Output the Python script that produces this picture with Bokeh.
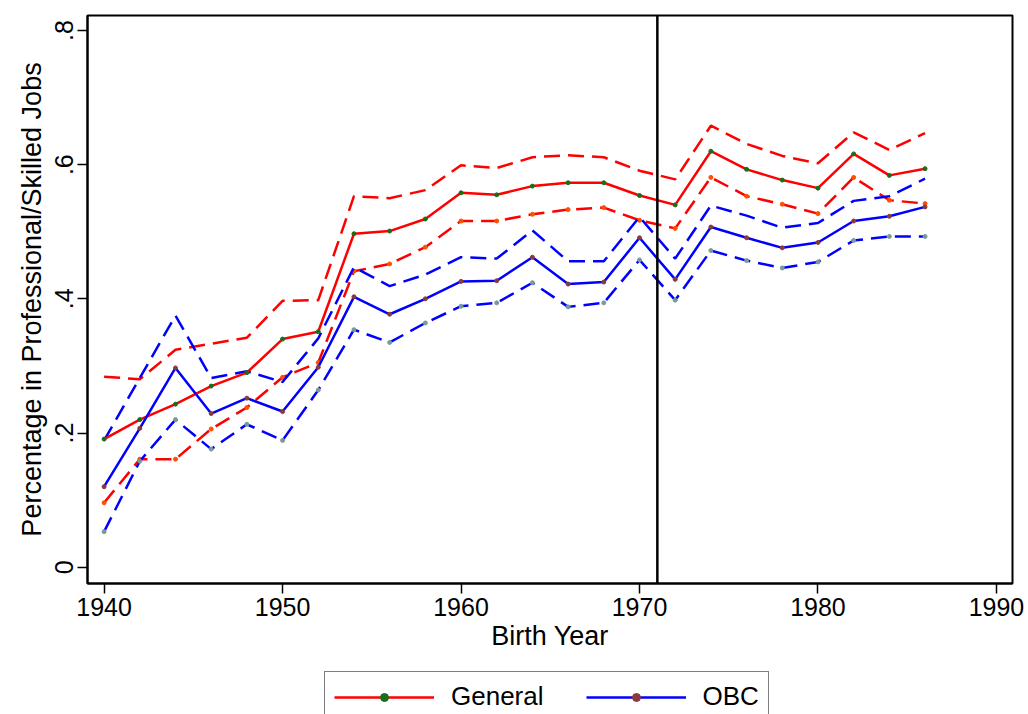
from bokeh.plotting import figure
from bokeh.layouts import column
from bokeh.models import (Span, Legend, LegendItem, FixedTicker,
                          CustomJSTickFormatter, Range1d)
from bokeh.embed import file_html
from bokeh.resources import INLINE

# Birth cohorts (two-year bins)
years = [1940, 1942, 1944, 1946, 1948, 1950, 1952, 1954, 1956, 1958, 1960, 1962,
         1964, 1966, 1968, 1970, 1972, 1974, 1976, 1978, 1980, 1982, 1984, 1986]

# General caste: share in professional/skilled jobs with 95% bounds
gen_mean = [0.191, 0.220, 0.243, 0.270, 0.290, 0.340, 0.351, 0.497, 0.501, 0.519, 0.558, 0.555,
            0.568, 0.573, 0.573, 0.554, 0.540, 0.620, 0.593, 0.577, 0.565, 0.616, 0.584, 0.594]
gen_hi = [0.284, 0.280, 0.324, 0.333, 0.342, 0.397, 0.398, 0.553, 0.550, 0.562, 0.599, 0.595,
          0.611, 0.614, 0.611, 0.591, 0.578, 0.658, 0.631, 0.613, 0.602, 0.648, 0.622, 0.647]
gen_lo = [0.096, 0.161, 0.161, 0.206, 0.238, 0.283, 0.305, 0.441, 0.452, 0.477, 0.516, 0.516,
          0.526, 0.533, 0.536, 0.517, 0.505, 0.581, 0.553, 0.541, 0.527, 0.581, 0.547, 0.542]

# OBC: share in professional/skilled jobs with 95% bounds
obc_mean = [0.120, 0.207, 0.297, 0.229, 0.252, 0.232, 0.298, 0.403, 0.377, 0.400, 0.426, 0.427,
            0.462, 0.422, 0.425, 0.491, 0.429, 0.507, 0.491, 0.476, 0.484, 0.516, 0.523, 0.537]
obc_hi = [0.189, 0.282, 0.375, 0.282, 0.292, 0.276, 0.341, 0.447, 0.419, 0.436, 0.462, 0.460,
          0.502, 0.456, 0.456, 0.522, 0.460, 0.539, 0.524, 0.506, 0.513, 0.546, 0.553, 0.579]
obc_lo = [0.053, 0.158, 0.220, 0.176, 0.213, 0.189, 0.264, 0.354, 0.335, 0.364, 0.389, 0.394,
          0.424, 0.388, 0.394, 0.458, 0.398, 0.472, 0.457, 0.446, 0.455, 0.487, 0.493, 0.493]

policy_year = 1971
x_ticks = [1940, 1950, 1960, 1970, 1980, 1990]
y_ticks = [0, 0.2, 0.4, 0.6, 0.8]

FONT = "Liberation Sans"
RED = "#ff0000"
BLUE = "#0000ff"
GEN_DOT = "#1a6e1a"
OBC_DOT = "#8b3a3a"
DASH = "16 8"
LW = 2.5

p = figure(width=1028, height=660, output_backend="svg", toolbar_location=None,
           x_range=Range1d(1939.07, 1990.9), y_range=Range1d(-0.0243, 0.8223),
           min_border_left=87, min_border_right=16, min_border_top=15,
           min_border_bottom=77, background_fill_color="white",
           border_fill_color="white")

p.xgrid.visible = False
p.ygrid.visible = False
p.outline_line_color = "black"
p.outline_line_width = 2
p.outline_line_alpha = 1

# Axes
p.xaxis.ticker = FixedTicker(ticks=x_ticks)
p.yaxis.ticker = FixedTicker(ticks=y_ticks)
p.yaxis.formatter = CustomJSTickFormatter(
    code="return tick == 0 ? '0' : tick.toFixed(1).replace(/^0/, '');")
p.yaxis.major_label_orientation = "vertical"
for ax in (p.xaxis[0], p.yaxis[0]):
    ax.axis_line_color = "black"
    ax.axis_line_width = 2
    ax.major_tick_line_color = "black"
    ax.major_tick_line_width = 1.5
    ax.major_tick_out = 10
    ax.major_tick_in = 0
    ax.minor_tick_line_color = None
    ax.major_label_text_font = FONT
    ax.major_label_text_font_size = "25px"
    ax.major_label_text_color = "black"
    ax.axis_label_text_font = FONT
    ax.axis_label_text_font_size = "27px"
    ax.axis_label_text_font_style = "normal"
    ax.axis_label_text_color = "black"
p.xaxis.axis_label = "Birth Year"
p.yaxis.axis_label = "Percentage in Professional/Skilled Jobs"
p.xaxis.major_label_standoff = 4
p.xaxis.axis_label_standoff = 2
p.yaxis.major_label_standoff = 4
p.yaxis.axis_label_standoff = 6

# Confidence bounds (dashed) and means (solid)
p.line(years, gen_hi, line_color=RED, line_width=LW, line_dash=DASH)
p.line(years, gen_lo, line_color=RED, line_width=LW, line_dash=DASH)
p.scatter(years, gen_lo, size=4, color="#ff5000")
p.line(years, obc_hi, line_color=BLUE, line_width=LW, line_dash=DASH)
p.line(years, obc_lo, line_color=BLUE, line_width=LW, line_dash=DASH)
p.scatter(years, obc_lo, size=4, color="#7a9a9a")

p.line(years, gen_mean, line_color=RED, line_width=LW)
p.scatter(years, gen_mean, size=4, color=GEN_DOT)
p.line(years, obc_mean, line_color=BLUE, line_width=LW)
p.scatter(years, obc_mean, size=4, color=OBC_DOT)

# Reference year
p.add_layout(Span(location=policy_year, dimension="height", line_color="black",
                  line_width=2.5))

# Legend strip underneath the chart (its frame lines up with the chart frame)
leg = figure(width=1028, height=54, output_backend="svg", toolbar_location=None,
             x_axis_type=None, y_axis_type=None, min_border=0,
             x_range=Range1d(0, 1), y_range=Range1d(0, 1),
             background_fill_color="white", border_fill_color="white")
leg.outline_line_color = None
leg.xgrid.visible = False
leg.ygrid.visible = False
# swatch renderers kept out of view; they only supply the legend glyph styles
g_line = leg.line(x=[-5, -4], y=[-5, -5], line_color=RED, line_width=LW)
g_dot = leg.scatter(x=[-5], y=[-5], size=4, color=GEN_DOT)
o_line = leg.line(x=[-5, -4], y=[-5, -5], line_color=BLUE, line_width=LW)
o_dot = leg.scatter(x=[-5], y=[-5], size=4, color=OBC_DOT)

legend = Legend(items=[LegendItem(label="General", renderers=[g_line, g_dot]),
                       LegendItem(label="OBC", renderers=[o_line, o_dot])],
                orientation="horizontal", location=(237, -8),
                glyph_width=100, glyph_height=20, label_standoff=17, spacing=42,
                padding=9, margin=0,
                label_text_font=FONT, label_text_font_size="26px",
                label_text_color="black",
                border_line_color="black", border_line_width=1.5,
                background_fill_color="white")
leg.add_layout(legend, "center")

open("out.html", "w").write(file_html(column(p, leg, spacing=0), INLINE))
